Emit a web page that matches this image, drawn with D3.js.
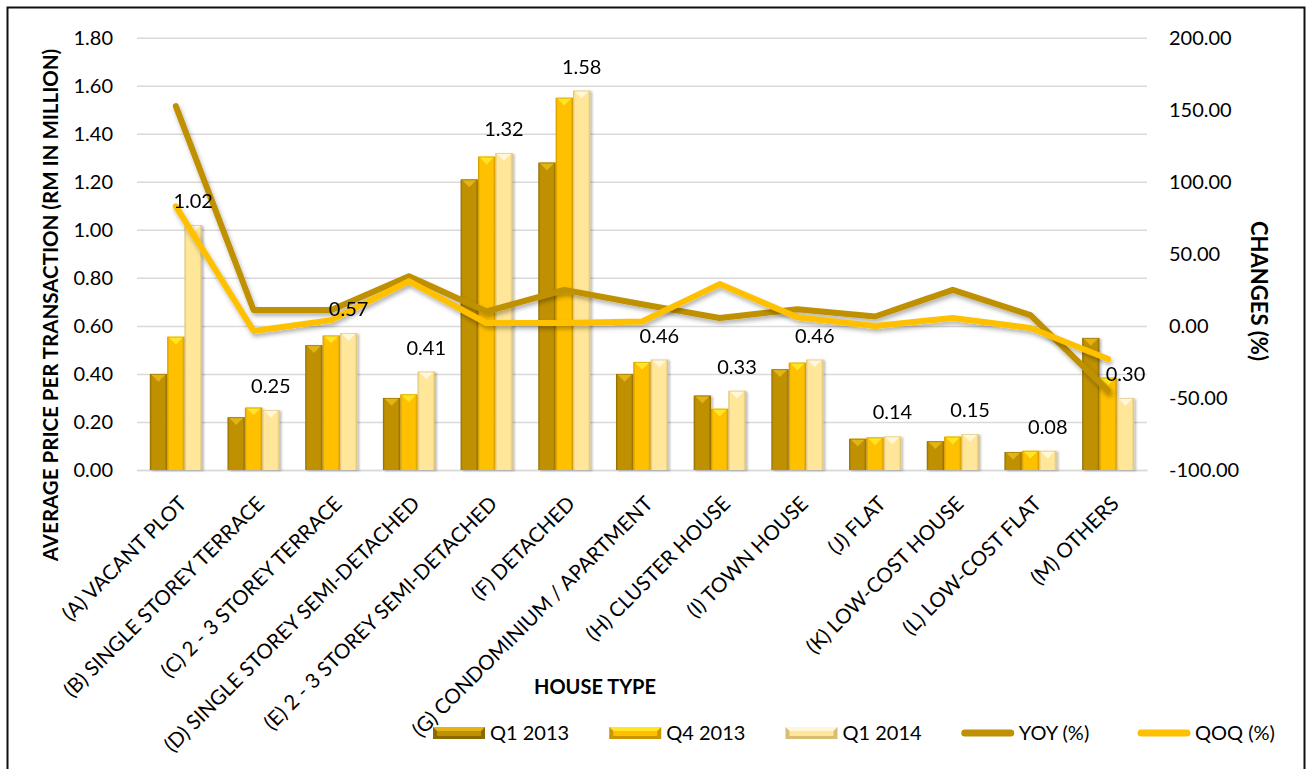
<!DOCTYPE html>
<html>
<head>
<meta charset="utf-8">
<script src="https://cdn.jsdelivr.net/npm/d3@7"></script>
<style>
  body { margin: 0; background: #fff; }
  svg text { font-family: Lato, "Open Sans", sans-serif; fill: #000; }
</style>
</head>
<body>
<div id="chart"></div>
<script>
// data
const categories = [
  "(A) VACANT PLOT", "(B) SINGLE STOREY TERRACE", "(C) 2 - 3 STOREY TERRACE",
  "(D) SINGLE STOREY SEMI-DETACHED", "(E) 2 - 3 STOREY SEMI-DETACHED", "(F) DETACHED",
  "(G) CONDOMINIUM / APARTMENT", "(H) CLUSTER HOUSE", "(I) TOWN HOUSE", "(J) FLAT",
  "(K) LOW-COST HOUSE", "(L) LOW-COST FLAT", "(M) OTHERS"
];
const barSeries = ["Q1 2013", "Q4 2013", "Q1 2014"];
const q1_2013 = [0.40, 0.22, 0.52, 0.30, 1.21, 1.28, 0.40, 0.31, 0.42, 0.13, 0.12, 0.075, 0.55];
const q4_2013 = [0.555, 0.26, 0.56, 0.315, 1.305, 1.55, 0.45, 0.255, 0.447, 0.136, 0.139, 0.08, 0.385];
const q1_2014 = [1.02, 0.25, 0.57, 0.41, 1.32, 1.58, 0.46, 0.33, 0.46, 0.14, 0.15, 0.08, 0.30];
const lineSeries = ["YOY (%)", "QOQ (%)"];
const yoy = [152.5, 11, 11, 34.5, 10, 25, 15, 5.5, 11.5, 6.5, 25, 7.5, -45];
const qoq = [83, -3.5, 4, 31, 2, 2, 3, 29, 6, 0, 5.5, -1.5, -23];
const leftTicks = [0, 0.2, 0.4, 0.6, 0.8, 1.0, 1.2, 1.4, 1.6, 1.8];
const rightTicks = [-100, -50, 0, 50, 100, 150, 200];

const barValues = [q1_2013, q4_2013, q1_2014];
const lineValues = [yoy, qoq];

const barColors = [
  { base: "#BF9000", light: "#E2B414", dark: "#8C6A00" },
  { base: "#FFC000", light: "#FFE526", dark: "#CC9600" },
  { base: "#FFE699", light: "#FFF7DA", dark: "#D8BE72" }
];
const lineColors = ["#BF9000", "#FFC000"];

const W = 1309, H = 769;
const plot = { left: 137, right: 1147, top: 37.7, bottom: 470 };

const svg = d3.select("#chart").append("svg")
  .attr("width", W)
  .attr("height", H);

const defs = svg.append("defs");
barColors.forEach((c, k) => {
  const gr = defs.append("linearGradient").attr("id", "bar" + k)
    .attr("x1", "0%").attr("x2", "100%").attr("y1", "0%").attr("y2", "0%");
  gr.append("stop").attr("offset", "0%").attr("stop-color", c.dark);
  gr.append("stop").attr("offset", "12%").attr("stop-color", c.base);
  gr.append("stop").attr("offset", "86%").attr("stop-color", c.base);
  gr.append("stop").attr("offset", "100%").attr("stop-color", c.dark);
});
const lf = defs.append("filter").attr("id", "lineShadow")
  .attr("x", "-5%").attr("y", "-20%").attr("width", "110%").attr("height", "140%");
lf.append("feDropShadow").attr("dx", 1.5).attr("dy", 3).attr("stdDeviation", 2)
  .attr("flood-color", "#000").attr("flood-opacity", 0.3);
const bf = defs.append("filter").attr("id", "barShadow")
  .attr("x", "-20%").attr("y", "-5%").attr("width", "140%").attr("height", "110%");
bf.append("feDropShadow").attr("dx", 2).attr("dy", 1).attr("stdDeviation", 1.2)
  .attr("flood-color", "#000").attr("flood-opacity", 0.25);

// outer frame
svg.append("rect")
  .attr("x", 7.5).attr("y", 7.5)
  .attr("width", 1297).attr("height", 790)
  .attr("fill", "none").attr("stroke", "#111").attr("stroke-width", 2);

const x0 = d3.scaleBand()
  .domain(categories)
  .range([plot.left, plot.right])
  .paddingInner(0.33)
  .paddingOuter(0.165);

const x1 = d3.scaleBand()
  .domain(barSeries)
  .range([0, x0.bandwidth()])
  .padding(0);

const yL = d3.scaleLinear().domain([0, 1.8]).range([plot.bottom, plot.top]);
const yR = d3.scaleLinear().domain([-100, 200]).range([plot.bottom, plot.top]);
const cx = c => x0(c) + x0.bandwidth() / 2;
const fmt = d => d.toFixed(2);

// gridlines + left axis
svg.append("g")
  .attr("transform", `translate(${plot.left},0)`)
  .call(d3.axisLeft(yL).tickValues(leftTicks).tickFormat(fmt)
    .tickSize(-(plot.right - plot.left)).tickPadding(24))
  .call(g => g.select(".domain").remove())
  .call(g => g.selectAll(".tick line").attr("stroke", "#D9D9D9").attr("stroke-width", 1.5))
  .call(g => g.selectAll(".tick text")
    .attr("font-size", 20).attr("font-family", "Lato, sans-serif").attr("fill", "#000"));

// right axis
svg.append("g")
  .attr("transform", `translate(${plot.right},0)`)
  .call(d3.axisRight(yR).tickValues(rightTicks).tickFormat(fmt).tickSize(0).tickPadding(22))
  .call(g => g.select(".domain").remove())
  .call(g => g.selectAll(".tick text")
    .attr("font-size", 20).attr("font-family", "Lato, sans-serif").attr("fill", "#000"));

// category axis
svg.append("g")
  .attr("transform", `translate(0,${plot.bottom})`)
  .call(d3.axisBottom(x0).tickSize(0).tickFormat(""))
  .call(g => g.select(".domain").attr("stroke", "#D9D9D9").attr("stroke-width", 1.5));

svg.append("g").selectAll("text")
  .data(categories)
  .join("text")
    .attr("transform", d => `translate(${cx(d) + 12},505) rotate(-45)`)
    .attr("text-anchor", "end")
    .attr("font-size", 20.5)
    .text(d => d);

// bars with a bevel-like top
const groups = svg.append("g").attr("filter", "url(#barShadow)")
  .selectAll("g")
  .data(categories)
  .join("g")
    .attr("transform", d => `translate(${x0(d)},0)`);

const bar = groups.selectAll("g")
  .data((c, i) => barSeries.map((s, k) => ({ s, k, v: barValues[k][i] })))
  .join("g");

bar.append("rect")
  .attr("x", d => x1(d.s))
  .attr("y", d => yL(d.v))
  .attr("width", x1.bandwidth())
  .attr("height", d => yL(0) - yL(d.v))
  .attr("fill", d => `url(#bar${d.k})`);

bar.append("polygon")
  .attr("points", d => {
    const bx = x1(d.s), by = yL(d.v), w = x1.bandwidth();
    const th = Math.min(w * 0.45, yL(0) - by);
    return `${bx + 1},${by} ${bx + w - 1},${by} ${bx + w / 2},${by + th}`;
  })
  .attr("fill", d => barColors[d.k].light);

bar.append("line")
  .attr("x1", d => x1(d.s) + 1).attr("x2", d => x1(d.s) + x1.bandwidth() - 1)
  .attr("y1", d => yL(d.v) + 0.5).attr("y2", d => yL(d.v) + 0.5)
  .attr("stroke", d => barColors[d.k].dark).attr("stroke-opacity", 0.6);

// lines on the secondary axis
const line = d3.line()
  .x((v, i) => cx(categories[i]))
  .y(v => yR(v));

svg.append("g").selectAll("path")
  .data(lineValues)
  .join("path")
    .attr("d", d => line(d))
    .attr("fill", "none")
    .attr("stroke", (d, i) => lineColors[i])
    .attr("stroke-width", 6)
    .attr("stroke-linejoin", "round")
    .attr("stroke-linecap", "round")
    .attr("filter", "url(#lineShadow)");

// value labels on Q1 2014 bars
svg.append("g").selectAll("text")
  .data(categories)
  .join("text")
    .attr("x", c => x0(c) + x1("Q1 2014") + x1.bandwidth() / 2)
    .attr("y", (c, i) => yL(q1_2014[i]) - 17)
    .attr("text-anchor", "middle")
    .attr("font-size", 20)
    .text((c, i) => fmt(q1_2014[i]));

// axis titles
svg.append("text")
  .attr("transform", `translate(58,305) rotate(-90)`)
  .attr("text-anchor", "middle")
  .attr("font-size", 20.5)
  .attr("font-weight", "bold")
  .text("AVERAGE PRICE PER TRANSACTION (RM IN MILLION)");

svg.append("text")
  .attr("transform", `translate(1251,291) rotate(90)`)
  .attr("text-anchor", "middle")
  .attr("font-size", 22)
  .attr("font-weight", "bold")
  .text("CHANGES (%)");

svg.append("text")
  .attr("x", 595).attr("y", 694)
  .attr("text-anchor", "middle")
  .attr("font-size", 20)
  .attr("font-weight", "bold")
  .text("HOUSE TYPE");

// legend
const legendItems = barSeries.map((s, k) => ({ name: s, type: "bar", k }))
  .concat(lineSeries.map((s, k) => ({ name: s, type: "line", k })));
const legendX = d3.scalePoint()
  .domain(legendItems.map(d => d.name))
  .range([433, 1138]);

const leg = svg.append("g").selectAll("g")
  .data(legendItems)
  .join("g")
    .attr("transform", d => `translate(${legendX(d.name)},727)`);

leg.filter(d => d.type === "bar").each(function(d) {
  const g = d3.select(this), c = barColors[d.k];
  g.append("rect").attr("width", 52).attr("height", 12).attr("fill", c.dark);
  g.append("polygon").attr("points", "0,0 52,0 48,4 4,4").attr("fill", c.light);
  g.append("rect").attr("x", 4).attr("y", 4).attr("width", 44).attr("height", 5).attr("fill", c.base);
});

leg.filter(d => d.type === "line").append("line")
  .attr("x1", 3).attr("x2", 49).attr("y1", 6).attr("y2", 6)
  .attr("stroke", d => lineColors[d.k])
  .attr("stroke-width", 7)
  .attr("stroke-linecap", "round");

leg.append("text")
  .attr("x", 57).attr("y", 13)
  .attr("font-size", 20)
  .text(d => d.name);
</script>
</body>
</html>
